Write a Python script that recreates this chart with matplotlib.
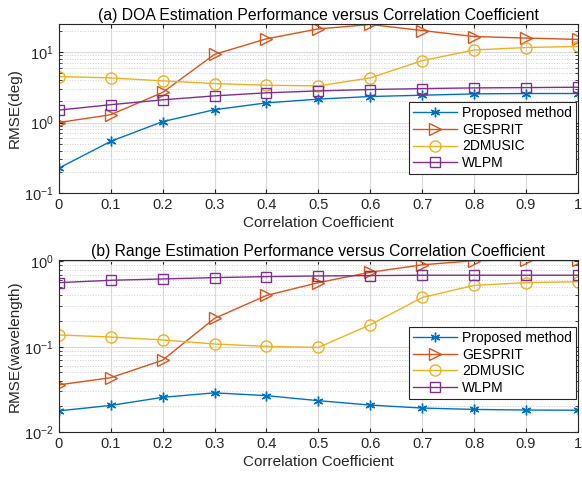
import numpy as np
import matplotlib
matplotlib.use('Agg')
import matplotlib.pyplot as plt

plt.rcParams['font.family'] = ['Liberation Sans', 'DejaVu Sans']

# correlation coefficient
rho = [0, 0.1, 0.2, 0.3, 0.4, 0.5, 0.6, 0.7, 0.8, 0.9, 1.0]
rho_ticks = ['0', '0.1', '0.2', '0.3', '0.4', '0.5', '0.6', '0.7', '0.8', '0.9', '1']

# (a) DOA RMSE (deg)
doa_proposed = [0.225, 0.54, 1.03, 1.52, 1.9, 2.15, 2.34, 2.44, 2.55, 2.58, 2.58]
doa_gesprit = [1.0, 1.29, 2.67, 9.27, 15.4, 21.3, 24.6, 20.2, 16.6, 15.8, 15.1]
doa_music = [4.49, 4.3, 3.9, 3.57, 3.38, 3.31, 4.3, 7.55, 10.7, 11.6, 12.0]
doa_wlpm = [1.5, 1.79, 2.1, 2.39, 2.64, 2.81, 2.94, 3.03, 3.1, 3.13, 3.17]

# (b) range RMSE (wavelength)
rng_proposed = [0.0177, 0.0205, 0.0255, 0.0288, 0.0267, 0.0233, 0.0207, 0.0191, 0.0184, 0.0181, 0.018]
rng_gesprit = [0.0357, 0.0433, 0.0695, 0.215, 0.399, 0.564, 0.747, 0.913, 1.02, 1.05, 1.05]
rng_music = [0.1375, 0.130, 0.12, 0.1076, 0.101, 0.098, 0.181, 0.378, 0.524, 0.564, 0.579]
rng_wlpm = [0.564, 0.601, 0.623, 0.646, 0.664, 0.676, 0.682, 0.689, 0.689, 0.689, 0.689]

names = ['Proposed method', 'GESPRIT', '2DMUSIC', 'WLPM']
colors = ['#0072BD', '#D95319', '#EDB120', '#7E2F8E']
markers = [(6, 2, 0), '>', 'o', 's']
msizes = [7, 9, 8, 7]


def draw(ax, series, title, ylabel, ylim, leg_y):
    for vals, name, c, m, ms in zip(series, names, colors, markers, msizes):
        ax.plot(rho, vals, color=c, marker=m, markersize=ms, markerfacecolor='none',
                markeredgecolor=c, markeredgewidth=1.0, linewidth=1.0, label=name)
    ax.set_yscale('log')
    ax.set_xlim(0, 1)
    ax.set_ylim(*ylim)
    ax.set_xticks(rho)
    ax.set_xticklabels(rho_ticks)
    ax.grid(True, which='major', color='#d9d9d9', linewidth=0.8)
    ax.grid(True, which='minor', axis='y', color='#cfcfcf', linestyle=':', linewidth=0.7)
    ax.set_axisbelow(True)
    ax.tick_params(which='both', direction='in', top=True, right=True, labelsize=10.5,
                   colors='#262626')
    ax.tick_params(which='major', length=3)
    ax.tick_params(which='minor', length=2)
    ax.set_title(title, fontsize=11.3, color='#000000', pad=3)
    ax.set_xlabel('Correlation Coefficient', fontsize=11, color='#262626', labelpad=3)
    ax.set_ylabel(ylabel, fontsize=11, color='#262626', labelpad=2)
    for s in ax.spines.values():
        s.set_color('#262626')
        s.set_linewidth(0.8)
    leg = ax.legend(loc='lower right', bbox_to_anchor=(0.996, leg_y), fontsize=10,
                    fancybox=False, framealpha=1, edgecolor='#262626', borderaxespad=0,
                    handlelength=3.2, borderpad=0.28, labelspacing=0.2, handletextpad=0.35)
    leg.get_frame().set_linewidth(0.8)


fig = plt.figure(figsize=(5.82, 4.78), dpi=100)
ax1 = fig.add_axes([0.1009, 0.5962, 0.8922, 0.3536])
ax2 = fig.add_axes([0.1009, 0.0962, 0.8922, 0.3599])

draw(ax1, [doa_proposed, doa_gesprit, doa_music, doa_wlpm],
     '(a) DOA Estimation Performance versus Correlation Coefficient', 'RMSE(deg)', (0.1, 25), 0.112)
draw(ax2, [rng_proposed, rng_gesprit, rng_music, rng_wlpm],
     '(b) Range Estimation Performance versus Correlation Coefficient', 'RMSE(wavelength)', (0.01, 1.04), 0.192)

fig.savefig('out.png', dpi=100)
